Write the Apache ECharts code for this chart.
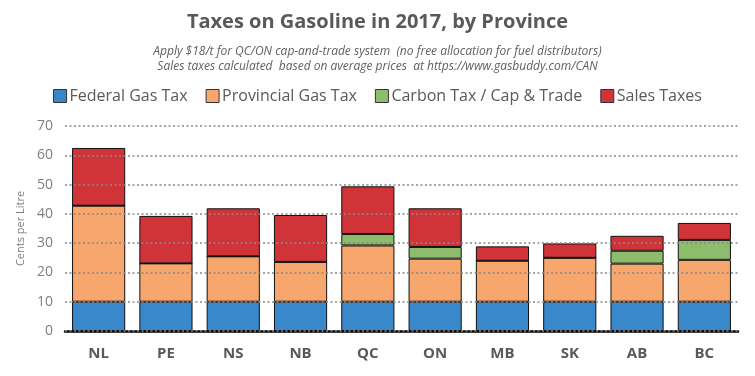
<!DOCTYPE html>
<html>
<head>
<meta charset="utf-8">
<script src="https://cdn.jsdelivr.net/npm/echarts@6/dist/echarts.min.js"></script>
<style>
  html, body { margin: 0; padding: 0; background: #fff; }
  #show { width: 755px; height: 376px; }
</style>
</head>
<body>
<div id="show"></div>
<script>
var myChart = echarts.init(document.getElementById("show"));

var provinces = ['NL', 'PE', 'NS', 'NB', 'QC', 'ON', 'MB', 'SK', 'AB', 'BC'];
var federal = [10, 10, 10, 10, 10, 10, 10, 10, 10, 10];
var provincial = [32.8, 13.1, 15.5, 13.6, 19.2, 14.7, 14, 15, 13, 14.3];
var carbon = [0, 0, 0, 0, 3.9, 4.0, 0, 0, 4.4, 6.8];
var sales = [19.7, 16.2, 16.4, 16.0, 16.3, 13.2, 4.9, 4.9, 5.1, 5.8];
var yTicks = [0, 10, 20, 30, 40, 50, 60, 70];

function seg(name, data, color) {
    return {
        name: name,
        type: 'bar',
        stack: 'tax',
        data: data,
        barCategoryGap: '21%',
        z: 2,
        itemStyle: { color: color, borderColor: '#111', borderWidth: 1 }
    };
}

myChart.setOption({
    animation: false,
    title: [
        {
            text: 'Taxes on Gasoline in 2017, by Province',
            left: 'center', top: 7,
            textStyle: { fontFamily: 'Open Sans', fontWeight: 'bold', fontSize: 20, color: '#595959' }
        },
        {
            text: 'Apply $18/t for QC/ON cap-and-trade system  (no free allocation for fuel distributors)\nSales taxes calculated  based on average prices  at https://www.gasbuddy.com/CAN',
            left: 'center', top: 39,
            textStyle: { fontFamily: 'Open Sans', fontStyle: 'italic', fontWeight: 'normal', fontSize: 12, color: '#606060', lineHeight: 15 }
        }
    ],
    legend: {
        top: 83, left: 'center',
        itemWidth: 13, itemHeight: 13, itemGap: 18,
        icon: 'rect',
        textStyle: { fontFamily: 'Open Sans', fontSize: 16, color: '#595959', padding: [0, 0, 0, -2] },
        itemStyle: { borderColor: '#333', borderWidth: 1 },
        data: ['Federal Gas Tax', 'Provincial Gas Tax', 'Carbon Tax / Cap & Trade', 'Sales Taxes']
    },
    grid: { left: 65, right: 17, top: 126, bottom: 45 },
    xAxis: {
        type: 'category',
        data: provinces,
        axisTick: { show: false },
        axisLine: { lineStyle: { color: '#000', width: 2.5 } },
        axisLabel: { fontFamily: 'Open Sans', fontWeight: 'bold', fontSize: 15, color: '#595959', margin: 15 }
    },
    yAxis: {
        type: 'value',
        min: yTicks[0], max: yTicks[yTicks.length - 1], interval: 10,
        z: 5,
        name: 'Cents per Litre',
        nameLocation: 'middle',
        nameGap: 36,
        nameTextStyle: { fontFamily: 'Open Sans', fontSize: 11, color: '#7f7f7f' },
        axisLabel: { fontFamily: 'Open Sans', fontSize: 14, color: '#7f7f7f', margin: 12 },
        splitLine: { lineStyle: { color: '#888', type: [2, 2.5], width: 1.6 } }
    },
    series: [
        seg('Federal Gas Tax', federal, '#3a88cc'),
        seg('Provincial Gas Tax', provincial, '#f7a76e'),
        seg('Carbon Tax / Cap & Trade', carbon, '#8dbd6c'),
        seg('Sales Taxes', sales, '#d13438')
    ]
});
</script>
</body>
</html>
